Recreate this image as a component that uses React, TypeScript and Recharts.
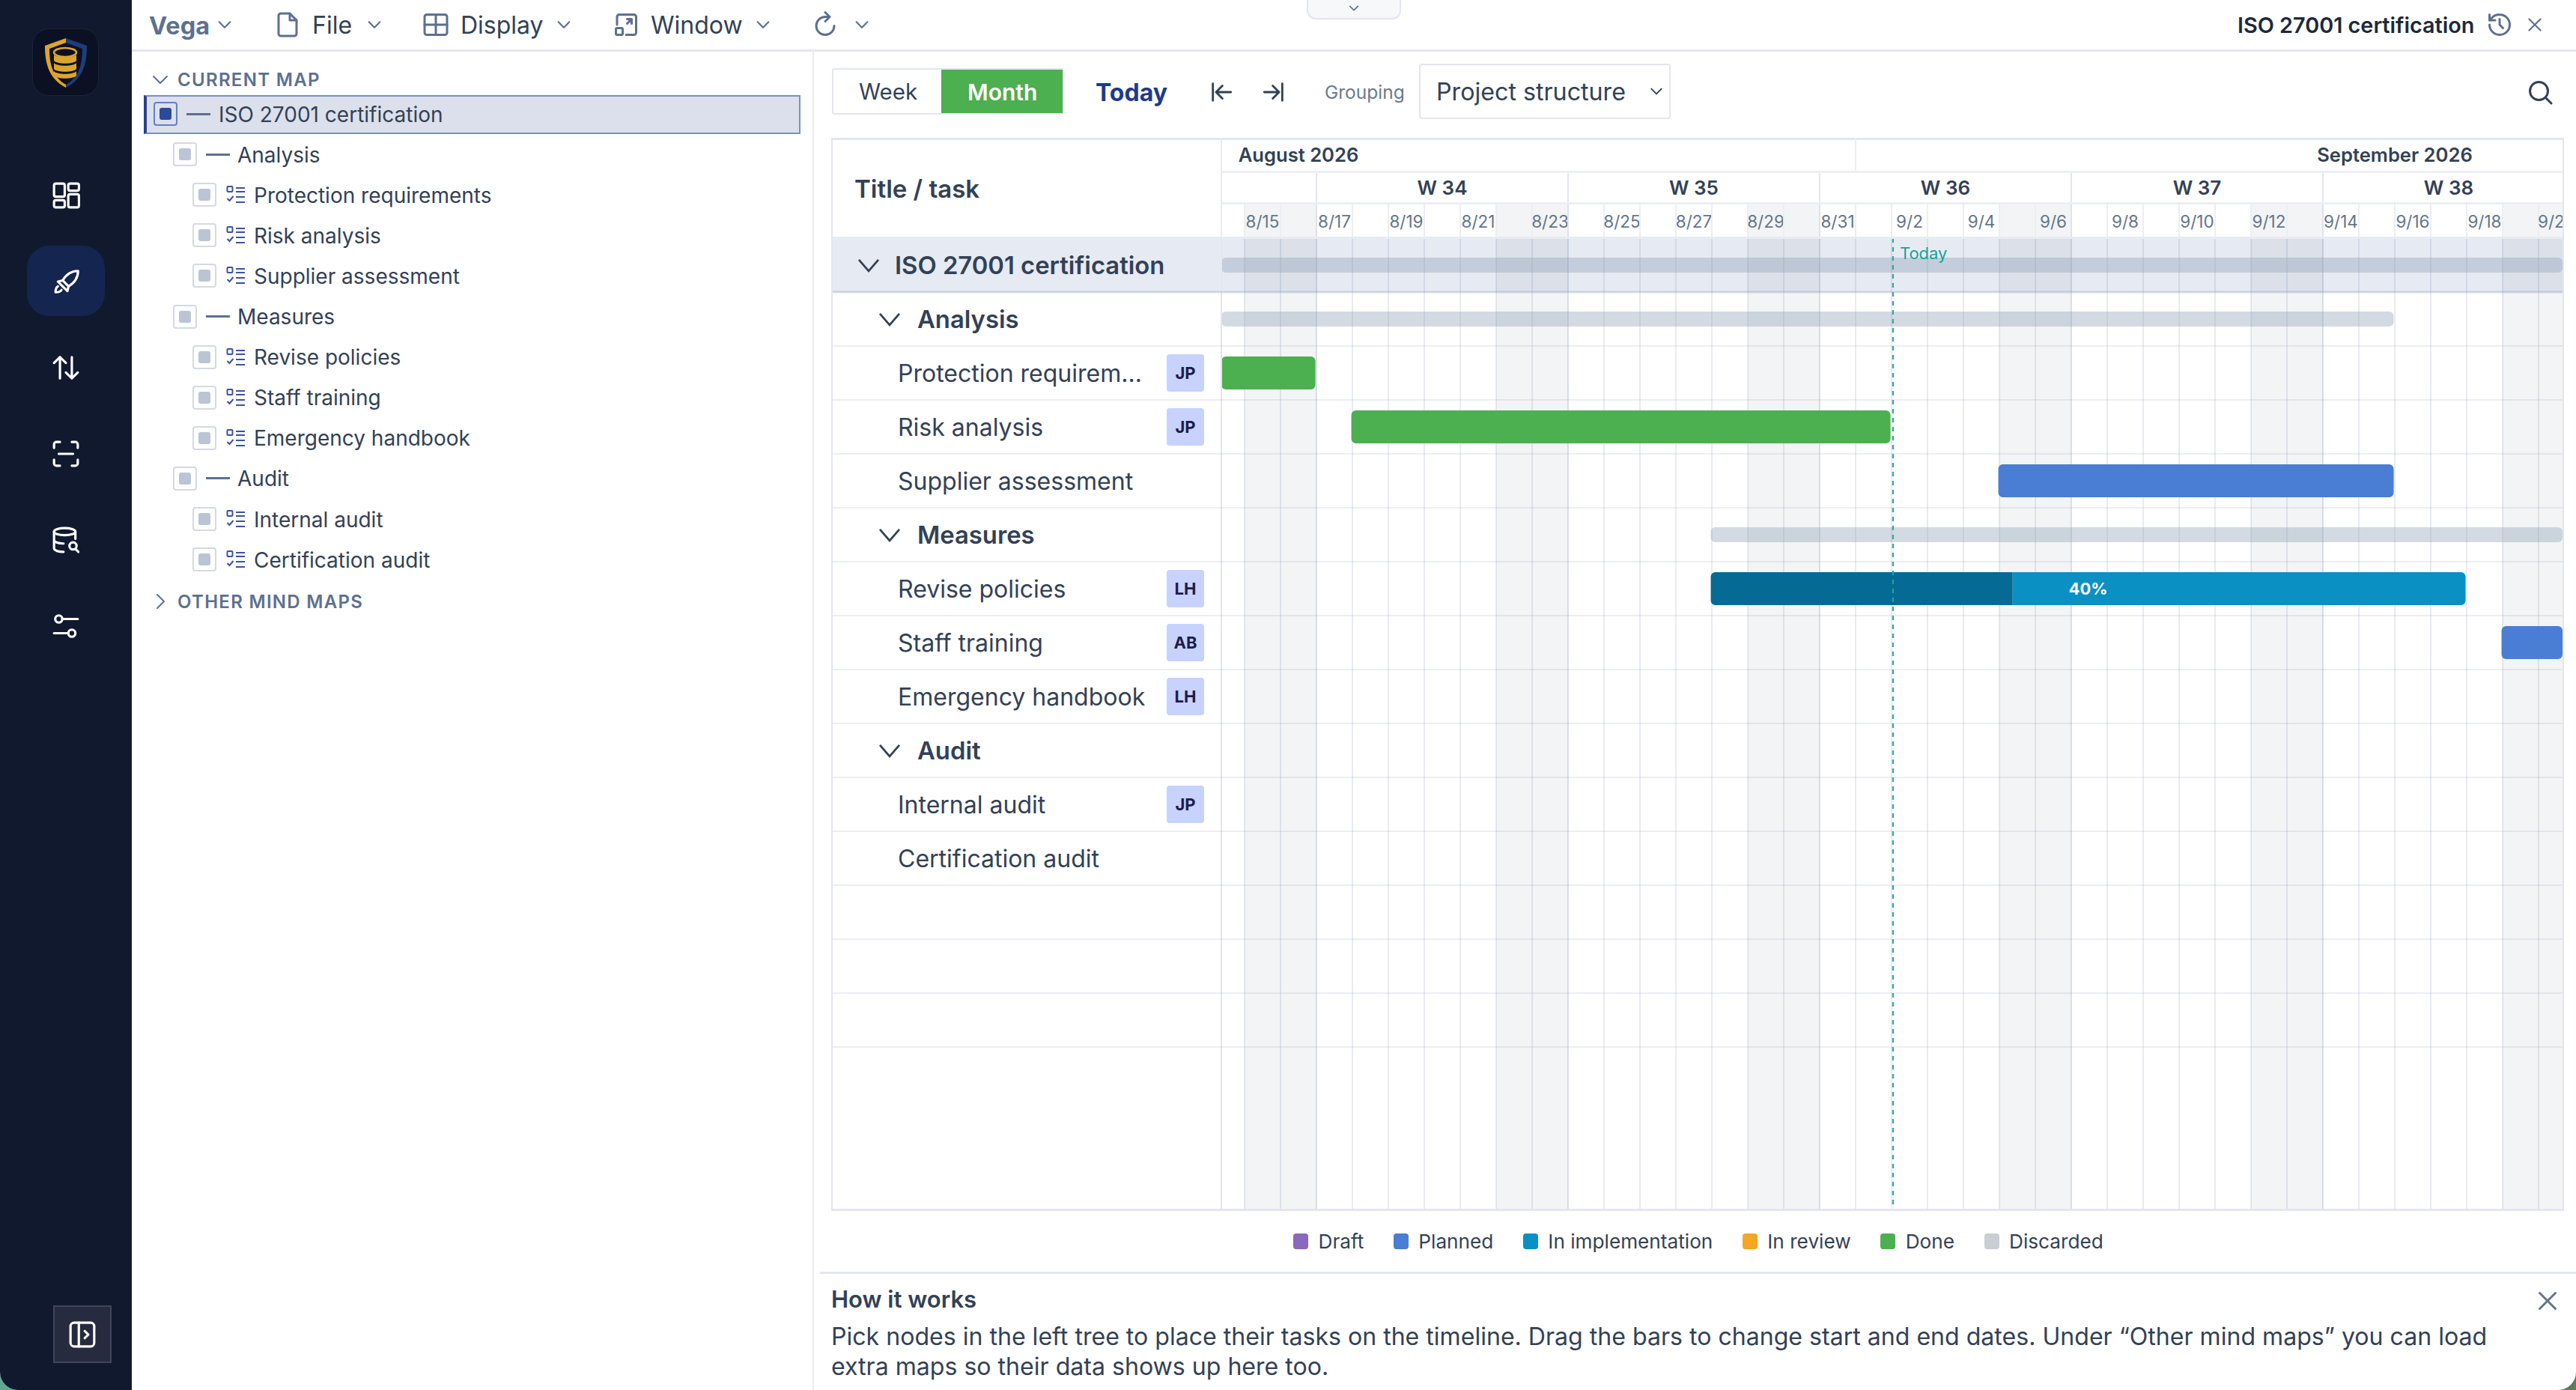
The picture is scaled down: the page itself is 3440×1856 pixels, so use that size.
import React from "react";
import {
  BarChart, Bar, XAxis, YAxis, CartesianGrid, ReferenceArea, ReferenceLine, Legend, Rectangle,
} from "recharts";

/* ---------- data: day numbers count from 1 August 2026 = 0 ---------- */
const rowKeys = ["iso","analysis","protection","risk","supplier","measures","revise","staff","emergency","audit","internal","certification","blank1","blank2","blank3","blank4","blank5","blank6"];
const rowLabels = ["ISO 27001 certification","Analysis","Protection requirem…","Risk analysis","Supplier assessment","Measures","Revise policies","Staff training","Emergency handbook","Audit","Internal audit","Certification audit","","","","","",""];
const rowLevels = [0,1,2,2,2,1,2,2,2,1,2,2,-1,-1,-1,-2,-2,-2];
const rowOwners = ["","","JP","JP","","","LH","AB","LH","","JP","","","","","","",""];
const barStarts = [9,9,9,16.97,34.97,26.97,26.97,48.97,null,null,null,null,null,null,null,null,null,null];
const barEnds = [56,45.97,15.97,31.97,45.97,56,47.97,56,null,null,null,null,null,null,null,null,null,null];
const barProgress = [0,0,0,0,0,0,0.4,0,0,0,0,0,0,0,0,0,0,0];
const barStatus = ["group","group","Done","Done","Planned","group","In implementation","Planned","","","","","","","","","",""];

const statusNames = ["Draft","Planned","In implementation","In review","Done","Discarded"];
const statusColors = ["#8a68bb","#4a7dd4","#0b90c4","#f5a623","#4caf50","#c9cdd4"];

const dayTicks = [14,15,16,17,18,19,20,21,22,23,24,25,26,27,28,29,30,31,32,33,34,35,36,37,38,39,40,41,42,43,44,45,46,47,48,49,50];
const dayLabelTicks = [14,16,18,20,22,24,26,28,30,32,34,36,38,40,42,44,46,48,50];
const dayLabels = ["8/15","8/17","8/19","8/21","8/23","8/25","8/27","8/29","8/31","9/2","9/4","9/6","9/8","9/10","9/12","9/14","9/16","9/18","9/20"];
const weekendStarts = [14,21,28,35,42,49];
const weekStarts = [16,23,30,37,44];
const weekCentres = [19.5,26.5,33.5,40.5,47.5];
const weekLabels = ["W 34","W 35","W 36","W 37","W 38"];
const monthCentres = [15.5,46];
const monthLabels = ["August 2026","September 2026"];
const todayValue = 32.04;
const domainStart = 13.354;
const domainEnd = 50.667;

const treeLabels = ["ISO 27001 certification","Analysis","Protection requirements","Risk analysis","Supplier assessment","Measures","Revise policies","Staff training","Emergency handbook","Audit","Internal audit","Certification audit"];
const treeLevels = [0,1,2,2,2,1,2,2,2,1,2,2];

const rows = rowKeys.map((key, i) => {
  const s = barStarts[i], e = barEnds[i], p = barProgress[i];
  const has = s != null && e != null;
  return {
    key, index: i, status: barStatus[i],
    gap: has ? s : 0,
    done: has ? (e - s) * p : 0,
    rest: has ? (e - s) * (1 - p) : 0,
    progress: p,
  };
});

/* ---------- layout ---------- */
const PX = 48;
const F = "Inter, sans-serif";
const C_TEXT = "#334155";
const C_LINE = "#e3e6ee";
const C_ICON = "#5d7091";

const HY = { top: 184, month: 229, week: 271, day: 318 };
const fillFor = (st: string) => {
  const i = statusNames.indexOf(st);
  return i >= 0 ? statusColors[i] : "#91a2b9";
};

/* ---------- chart pieces ---------- */
const Chevron = ({ x, y, size = 13, color = C_TEXT, w = 2.8 }: any) => (
  <path d={`M${x - size} ${y - size * 0.55}L${x} ${y + size * 0.6}L${x + size} ${y - size * 0.55}`} fill="none" stroke={color} strokeWidth={w} />
);

const RowTick = (props: any) => {
  const { y, payload } = props;
  const i = rowKeys.indexOf(payload.value);
  if (i < 0) return null;
  const level = rowLevels[i];
  if (level === -2) return null;
  const L = 1111, M = 1631, R = 3422;
  const label = rowLabels[i];
  const owner = rowOwners[i];
  return (
    <g>
      {i === 0 && <rect x={L} y={y - 36} width={M - L} height={72} fill="#e5eaf3" />}
      <line x1={L} x2={R} y1={y + 36} y2={y + 36} stroke="#8d97b0" strokeOpacity={i === 0 ? 0.32 : 0.16} strokeWidth={i === 0 ? 3 : 2} />
      {level === 0 && <Chevron x={1160} y={y} size={13} />}
      {level === 1 && <Chevron x={1188} y={y} size={13} />}
      {label && (
        <text
          x={level === 0 ? 1195 : level === 1 ? 1225 : 1199}
          y={y}
          dy="0.36em"
          fontFamily={F}
          fontSize={level === 2 ? 32 : 32.8}
          fontWeight={level === 2 ? 400 : 600}
          fill={C_TEXT}
        >
          {label}
        </text>
      )}
      {owner && (
        <g>
          <rect x={1558} y={y - 25} width={50} height={50} rx={4} fill="#c7d2fe" />
          <text x={1583} y={y} dy="0.36em" textAnchor="middle" fontFamily={F} fontSize={22} fontWeight={700} fill="#1e1b4b">{owner}</text>
        </g>
      )}
    </g>
  );
};

const DayTick = (props: any) => {
  const { x, payload } = props;
  const v = payload.value;
  const li = dayLabelTicks.indexOf(v);
  const weekend = weekendStarts.includes(v) || weekendStarts.includes(v - 1);
  const week = weekStarts.includes(v);
  return (
    <g>
      {weekend && <rect x={x} y={HY.week} width={PX} height={HY.day - HY.week} fill="#6b7a90" fillOpacity={0.085} />}
      <line x1={x} x2={x} y1={HY.week} y2={HY.day} stroke={week ? "#dfe2ea" : "#eceef3"} strokeWidth={2} />
      {li >= 0 && (
        <text x={x + PX / 2} y={296} dy="0.36em" textAnchor="middle" fontFamily={F} fontSize={22.5} fill="#64748b">{dayLabels[li]}</text>
      )}
    </g>
  );
};

const WeekTick = (props: any) => {
  const { x, payload } = props;
  const i = weekCentres.indexOf(payload.value);
  return (
    <g>
      <line x1={x - 3.5 * PX} x2={x - 3.5 * PX} y1={HY.month} y2={HY.week} stroke={C_LINE} strokeWidth={2} />
      <text x={x} y={251} dy="0.36em" textAnchor="middle" fontFamily={F} fontSize={26} fontWeight={600} fill={C_TEXT}>{weekLabels[i]}</text>
    </g>
  );
};

const MonthTick = (props: any) => {
  const { x, payload } = props;
  const i = monthCentres.indexOf(payload.value);
  return (
    <text x={x} y={207} dy="0.36em" textAnchor="middle" fontFamily={F} fontSize={25.6} fontWeight={600} fill={C_TEXT}>{monthLabels[i]}</text>
  );
};

const GapShape = () => null;

const DoneShape = (p: any) => {
  const { x, y, width, height } = p;
  if (!(width > 0)) return null;
  const cy = y + height / 2;
  return <Rectangle x={x} y={cy - 22} width={width} height={44} radius={[6, 0, 0, 6]} fill="#066b94" />;
};

const RestShape = (p: any) => {
  const { x, y, width, height, payload } = p;
  if (!(width > 0)) return null;
  const group = payload.status === "group";
  const h = group ? 20 : 44;
  const cy = y + height / 2;
  const hasDone = payload.progress > 0;
  const total = width / (1 - payload.progress);
  const left = x + width - total;
  return (
    <g>
      <Rectangle
        x={x}
        y={cy - h / 2}
        width={width}
        height={h}
        radius={hasDone ? [0, 6, 6, 0] : 6}
        fill={fillFor(payload.status)}
        fillOpacity={group ? 0.4 : 1}
      />
      {hasDone && (
        <text x={left + total / 2} y={cy} dy="0.36em" textAnchor="middle" fontFamily={F} fontSize={22} fontWeight={700} fill="#ffffff">
          {Math.round(payload.progress * 100)}%
        </text>
      )}
    </g>
  );
};

const TodayLabel = (props: any) => {
  const { viewBox } = props;
  return (
    <text x={viewBox.x + 9} y={viewBox.y + 20} dy="0.36em" fontFamily={F} fontSize={22} fill="#14a596">Today</text>
  );
};

const StatusLegend = () => (
  <div style={{ display: "flex", alignItems: "center", gap: 39.5, fontFamily: F, fontSize: 26.2, color: C_TEXT, height: 34, whiteSpace: "nowrap" }}>
    {statusNames.map((n, i) => (
      <div key={n} style={{ display: "flex", alignItems: "center", gap: 13.5 }}>
        <span style={{ display: "inline-block", width: 20, height: 21, borderRadius: 4, background: statusColors[i] }} />
        <span>{n}</span>
      </div>
    ))}
  </div>
);

const Gantt = () => (
  <BarChart
    layout="vertical"
    width={3422}
    height={1856}
    data={rows}
    barSize={44}
    margin={{ top: 184, left: 1111, right: 0, bottom: 242 }}
    style={{ position: "absolute", left: 0, top: 0 }}
  >
    <CartesianGrid xAxisId="day" horizontal={false} verticalValues={dayTicks} stroke="#e9ebf1" strokeWidth={2} />
    <CartesianGrid xAxisId="day" horizontal={false} verticalValues={weekStarts} stroke="#dfe2ea" strokeWidth={2} />
    <XAxis xAxisId="day" type="number" orientation="top" height={47} domain={[domainStart, domainEnd]} allowDataOverflow ticks={dayTicks} interval={0} tick={DayTick} axisLine={false} tickLine={false} />
    <XAxis xAxisId="week" type="number" orientation="top" height={42} domain={[domainStart, domainEnd]} allowDataOverflow ticks={weekCentres} interval={0} tick={WeekTick} axisLine={false} tickLine={false} />
    <XAxis xAxisId="month" type="number" orientation="top" height={45} domain={[domainStart, domainEnd]} allowDataOverflow ticks={monthCentres} interval={0} tick={MonthTick} axisLine={false} tickLine={false} />
    <YAxis type="category" dataKey="key" width={520} interval={0} tick={RowTick} tickLine={false} axisLine={{ stroke: C_LINE, strokeWidth: 2 }} />
    <ReferenceArea xAxisId="day" y1={rowKeys[0]} y2={rowKeys[0]} x1={domainStart} x2={domainEnd} fill="#2f5597" fillOpacity={0.12} stroke="none" ifOverflow="hidden" />
    {weekendStarts.map((d) => (
      <ReferenceArea key={d} xAxisId="day" x1={d} x2={d + 2} fill="#6b7a90" fillOpacity={0.085} stroke="none" ifOverflow="hidden" />
    ))}
    <Bar xAxisId="day" dataKey="gap" stackId="task" shape={GapShape} isAnimationActive={false} legendType="none" />
    <Bar xAxisId="day" dataKey="done" stackId="task" shape={DoneShape} isAnimationActive={false} />
    <Bar xAxisId="day" dataKey="rest" stackId="task" shape={RestShape} isAnimationActive={false} />
    <ReferenceLine xAxisId="day" x={todayValue} stroke="#22a699" strokeWidth={2} strokeDasharray="6 6" label={<TodayLabel />} />
    <Legend layout="horizontal" align="center" verticalAlign="middle" content={<StatusLegend />} wrapperStyle={{ position: "absolute", left: 1727, top: 1640, bottom: "auto", width: 1200 }} />
  </BarChart>
);

/* ---------- app chrome ---------- */
const T = ({ x, y, size = 31, weight = 400, color = C_TEXT, spacing, children }: any) => (
  <div style={{ position: "absolute", left: x, top: y, transform: "translateY(-50%)", fontFamily: F, fontSize: size, fontWeight: weight, color, lineHeight: 1.2, whiteSpace: "nowrap", letterSpacing: spacing }}>
    {children}
  </div>
);
const Box = ({ x, y, w, h, style }: any) => (
  <div style={{ position: "absolute", left: x, top: y, width: w, height: h, boxSizing: "border-box", ...style }} />
);
const Ico = ({ cx, cy, size = 32, vb = 24, color = C_ICON, sw = 2, children }: any) => (
  <svg width={size} height={size} viewBox={`0 0 ${vb} ${vb}`} fill="none" stroke={color} strokeWidth={sw} strokeLinecap="round" strokeLinejoin="round" style={{ position: "absolute", left: cx - size / 2, top: cy - size / 2 }}>
    {children}
  </svg>
);
const Down = ({ cx, cy, size = 22, color = C_ICON }: any) => (
  <Ico cx={cx} cy={cy} size={size} color={color} sw={2.4}><path d="M4 8l8 8 8-8" /></Ico>
);

const Sidebar = () => (
  <>
    <Box x={0} y={0} w={176} h={1856} style={{ background: "#11192f", borderRadius: "0 0 0 24px" }} />
    <Box x={43} y={38} w={89} h={90} style={{ background: "#0b1122", border: "1px solid #1c2438", borderRadius: 22 }} />
    <svg width={60} height={68} viewBox="0 0 60 68" style={{ position: "absolute", left: 58, top: 50 }}>
      <path d="M30 1L2 11c0 24 5 44 28 56z" fill="#dca52e" />
      <path d="M30 1l28 10c0 24-5 44-28 56z" fill="#1f3d7a" />
      <path d="M30 7L8 15c0 20 4 38 22 48 18-10 22-28 22-48z" fill="#0b1122" />
      <ellipse cx="29" cy="20" rx="15" ry="6" fill="#0b1122" stroke="#dca52e" strokeWidth="2.5" />
      <path d="M14 23c4 5 26 5 30 0v8c-4 5-26 5-30 0z" fill="#dca52e" />
      <path d="M14 34c4 5 26 5 30 0v8c-4 5-26 5-30 0z" fill="#dca52e" />
      <path d="M14 45c4 5 26 5 30 0v6c-4 5-26 5-30 0z" fill="#dca52e" />
    </svg>
    <Box x={36} y={328} w={104} h={94} style={{ background: "#14264f", borderRadius: 30 }} />
    <Ico cx={88} cy={261} size={38} color="#fff"><rect x="2" y="2" width="9" height="11" rx="1.5" /><rect x="14" y="2" width="9" height="6" rx="1.5" /><rect x="2" y="16" width="9" height="6" rx="1.5" /><rect x="14" y="11" width="9" height="11" rx="1.5" /></Ico>
    <Ico cx={90} cy={376} size={38} color="#fff"><path d="M21 3c-6 0-10 3-13 8l-4 1 4 4 4 4 1-4c5-3 8-7 8-13z" /><path d="M8 11l5 5" /><path d="M4 16c-2 1-2 4-2 5 1 0 4 0 5-2" /></Ico>
    <Ico cx={88} cy={491} size={38} color="#fff"><path d="M7 21V3M2 8l5-5 5 5" /><path d="M17 3v18M12 16l5 5 5-5" /></Ico>
    <Ico cx={88} cy={606} size={38} color="#fff"><path d="M2 7V4a2 2 0 012-2h3M17 2h3a2 2 0 012 2v3M22 17v3a2 2 0 01-2 2h-3M7 22H4a2 2 0 01-2-2v-3M6 12h12" /></Ico>
    <Ico cx={88} cy={721} size={38} color="#fff"><ellipse cx="11" cy="5" rx="9" ry="3" /><path d="M2 5v14c0 2 4 3 8 3M20 5v6M2 12c0 2 4 3 8 3" /><circle cx="18" cy="17" r="3" /><path d="M20 19.5l2.5 2.5" /></Ico>
    <Ico cx={88} cy={836} size={38} color="#fff"><circle cx="6" cy="6" r="3" /><path d="M9 6h13" /><circle cx="17" cy="18" r="3" /><path d="M2 18h12" /></Ico>
    <Box x={71} y={1743} w={78} h={77} style={{ background: "#262b40", border: "2px solid #40455a" }} />
    <Ico cx={110} cy={1782} size={38} color="#fff" sw={2}><rect x="2" y="2" width="20" height="20" rx="3" /><path d="M9 2v20M14 9l3 3-3 3" /></Ico>
  </>
);

const TopBar = () => (
  <>
    <Box x={176} y={66} w={3264} h={3} style={{ background: C_LINE }} />
    <T x={199} y={34} size={32.5} weight={700} color={C_ICON}>Vega</T>
    <Down cx={300} cy={33} />
    <Ico cx={384} cy={33} size={36}><path d="M14 2H6a2 2 0 00-2 2v16a2 2 0 002 2h12a2 2 0 002-2V8z" /><path d="M14 2v6h6" /></Ico>
    <T x={417} y={34} size={32}>File</T>
    <Down cx={500} cy={33} />
    <Ico cx={582} cy={33} size={36}><rect x="2" y="3" width="20" height="18" rx="2" /><path d="M12 3v18M2 12h20" /></Ico>
    <T x={615} y={34} size={32}>Display</T>
    <Down cx={753} cy={33} />
    <Ico cx={836} cy={33} size={36}><path d="M4 12V5a2 2 0 012-2h13a2 2 0 012 2v14a2 2 0 01-2 2h-7" /><rect x="3" y="15" width="6" height="6" rx="1" /><path d="M13 11l4-4M13 7h4v4" /></Ico>
    <T x={869} y={34} size={32}>Window</T>
    <Down cx={1019} cy={33} />
    <Ico cx={1102} cy={33} size={36}><path d="M20 13a8 8 0 11-8-8h3" /><path d="M12 1l4 4-4 4" /></Ico>
    <Down cx={1151} cy={33} />
    <Box x={1745} y={-4} w={126} h={30} style={{ background: "#f7f8fa", border: "2px solid #e2e6ee", borderRadius: "0 0 12px 12px" }} />
    <Down cx={1808} cy={11} size={16} />
    <T x={2988} y={33.5} size={28.8} weight={600} color="#1e293b">ISO 27001 certification</T>
    <Ico cx={3338} cy={33} size={36}><path d="M3 12a9 9 0 109-9 9 9 0 00-7 3L3 8" /><path d="M3 3v5h5M12 7v5l3 3" /></Ico>
    <Ico cx={3385} cy={33} size={26}><path d="M5 5l14 14M19 5L5 19" /></Ico>
    <Box x={1085} y={68} w={2} h={1788} style={{ background: "#e9ecf2" }} />
  </>
);

const Checkbox = ({ x, cy, active }: any) => (
  <>
    <Box x={x} y={cy - 16} w={32} h={32} style={{ background: active ? "transparent" : "#fff", border: `2px solid ${active ? "#6480c4" : "#d5d9e3"}`, borderRadius: 4 }} />
    <Box x={x + 8} y={cy - 8} w={16} h={16} style={{ background: active ? "#2c4a9a" : "#bcc4d4", borderRadius: 3 }} />
  </>
);

const Tree = () => (
  <>
    <Box x={192} y={127} w={877} h={52} style={{ background: "#dce0ec", border: "2px solid #7b8fc5", borderLeft: "4px solid #2c3f8f" }} />
    <Ico cx={214} cy={106} size={24}><path d="M3 8l9 9 9-9" /></Ico>
    <T x={237} y={107} size={24} weight={600} color={C_ICON} spacing={1.3}>CURRENT MAP</T>
    {treeLabels.map((label, i) => {
      const lvl = treeLevels[i];
      const cy = 152 + 54.1 * i;
      const bx = lvl === 0 ? 205 : lvl === 1 ? 231 : 257;
      const tx = lvl === 0 ? 292 : lvl === 1 ? 317 : 339;
      return (
        <React.Fragment key={label}>
          <Checkbox x={bx} cy={cy} active={lvl === 0} />
          {lvl < 2 ? (
            <Box x={bx + 44} y={cy - 1.5} w={32} h={3} style={{ background: C_ICON }} />
          ) : (
            <svg width={26} height={26} viewBox="0 0 26 26" fill="none" stroke="#3b52a3" strokeWidth="2" style={{ position: "absolute", left: 302, top: cy - 13 }}>
              <rect x="1.5" y="2" width="7" height="7" rx="1" /><path d="M13 4h12M13 9h12M13 16h12M13 23h12M1.5 18l3 3 5-6" />
            </svg>
          )}
          <T x={tx} y={cy + 1.5} size={28} color={C_TEXT}>{label}</T>
        </React.Fragment>
      );
    })}
    <Ico cx={214} cy={803} size={24}><path d="M8 3l9 9-9 9" /></Ico>
    <T x={237} y={803.5} size={24} weight={600} color={C_ICON} spacing={1.3}>OTHER MIND MAPS</T>
  </>
);

const Toolbar = () => (
  <>
    <Box x={1111} y={91} w={309} h={62} style={{ background: "#fff", border: "2px solid #e3e6ee", borderRadius: 3 }} />
    <Box x={1257} y={93} w={162} h={58} style={{ background: "#4caf50" }} />
    <T x={1147} y={123} size={29.5}>Week</T>
    <T x={1292} y={123} size={30} weight={600} color="#fff">Month</T>
    <T x={1463} y={123.5} size={32} weight={700} color="#1e3a8a">Today</T>
    <Ico cx={1631} cy={123} size={34} color="#334155"><path d="M4 4v16M21 12H8M13 6l-6 6 6 6" /></Ico>
    <Ico cx={1701} cy={123} size={34} color="#334155"><path d="M20 4v16M3 12h13M11 6l6 6-6 6" /></Ico>
    <T x={1769} y={123.5} size={24.5} color="#6b7a8d">Grouping</T>
    <Box x={1895} y={85} w={336} h={74} style={{ background: "#fff", border: "2px solid #e3e6ee", borderRadius: 4 }} />
    <T x={1918} y={123} size={32.2}>Project structure</T>
    <Down cx={2212} cy={122} size={20} color="#334155" />
    <Ico cx={3392} cy={123} size={36} color="#334155"><circle cx="11" cy="11" r="8" /><path d="M17 17l5 5" /></Ico>
  </>
);

const TableFrame = () => (
  <>
    <Box x={1111} y={HY.top} w={2313} h={3} style={{ background: C_LINE }} />
    <Box x={1631} y={HY.month - 1} w={1793} h={2.5} style={{ background: "#edeff4" }} />
    <Box x={1631} y={HY.week - 1} w={1793} h={3} style={{ background: "#edeff4" }} />
    <Box x={1111} y={HY.day - 2} w={2313} h={3} style={{ background: "#e8ebf1" }} />
    <Box x={1110} y={HY.top} w={2} h={1432} style={{ background: C_LINE }} />
    <Box x={3422} y={HY.top} w={2} h={1432} style={{ background: C_LINE }} />
    <Box x={1110} y={1614} w={2314} h={3} style={{ background: C_LINE }} />
    <Box x={1630} y={HY.top} w={2} h={HY.day - HY.top} style={{ background: "#e8ebf1" }} />
    <Box x={2477} y={HY.top} w={2} h={HY.month - HY.top} style={{ background: "#edeff4" }} />
    <T x={1141} y={252.5} size={33} weight={600}>Title / task</T>
  </>
);

const Help = () => (
  <>
    <Box x={1095} y={1698} w={2345} h={3} style={{ background: C_LINE }} />
    <T x={1110} y={1735} size={31} weight={600}>How it works</T>
    <Ico cx={3402} cy={1737} size={36} color="#64748b"><path d="M5 5l14 14M19 5L5 19" /></Ico>
    <T x={1110} y={1785} size={32.1}>Pick nodes in the left tree to place their tasks on the timeline. Drag the bars to change start and end dates. Under “Other mind maps” you can load</T>
    <T x={1110} y={1825} size={32.1}>extra maps so their data shows up here too.</T>
  </>
);

export default function App() {
  return (
    <div style={{ position: "absolute", left: 0, top: 0, width: 3440, height: 1856, overflow: "hidden", background: "#fff" }}>
      <Box x={0} y={1816} w={40} h={40} style={{ background: "#5fa890" }} />
      <Box x={3400} y={1816} w={40} h={40} style={{ background: "#5d7a5a" }} />
      <Box x={0} y={0} w={3440} h={1856} style={{ background: "#fff", borderRadius: "0 0 24px 24px" }} />
      <Sidebar />
      <TopBar />
      <Tree />
      <Toolbar />
      <Gantt />
      <TableFrame />
      <Help />
    </div>
  );
}
